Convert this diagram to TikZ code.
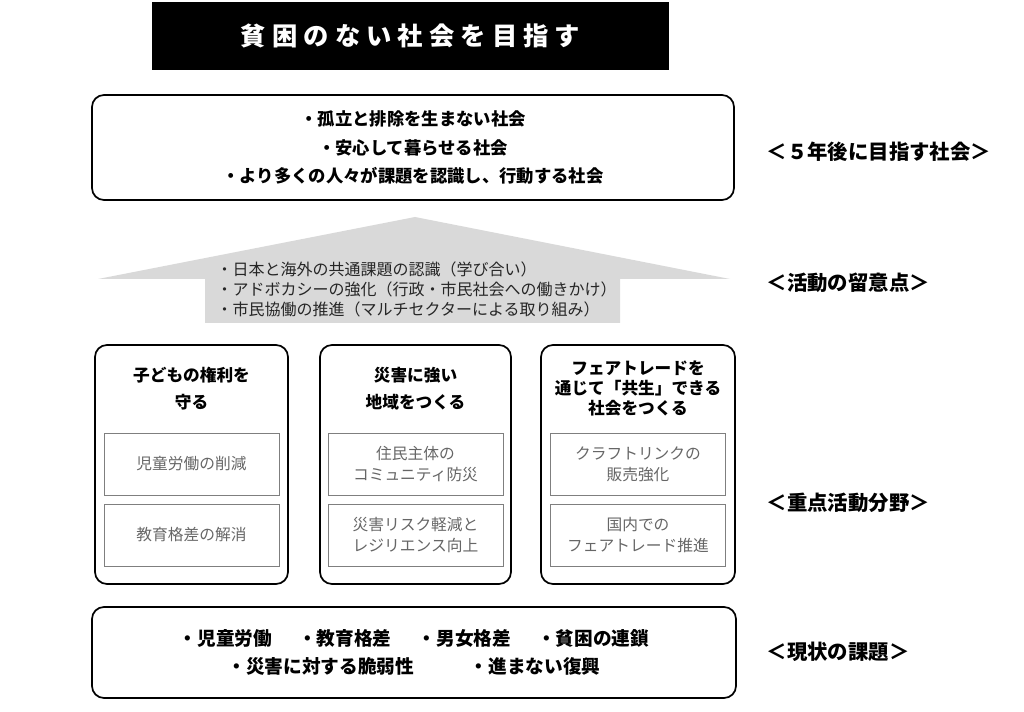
\documentclass[tikz,border=0pt]{standalone}
\usepackage{fontspec}
\newfontfamily\jp{Noto Sans CJK JP}
\newfontfamily\jptitle{Noto Sans CJK JP}[LetterSpace=24]
\usetikzlibrary{positioning}
\definecolor{arrowgray}{HTML}{D9D9D9}
\definecolor{itemgray}{HTML}{666666}
\definecolor{framegray}{HTML}{7F7F7F}
\newcommand\px{0.75pt}

\begin{document}
\begin{tikzpicture}[x=0.75pt,y=-0.75pt,
    colbox/.style={draw,line width=1.3pt,rounded corners=9pt,minimum height=239*\px},
    coltitle/.style={align=center,font=\jp\bfseries\fontsize{12.5}{20}\selectfont},
    itembox/.style={draw=framegray,line width=0.6pt,minimum width=175*\px,minimum height=62*\px,
                    align=center,text=itemgray,font=\jp\fontsize{11.8}{15.8}\selectfont},
    sidelabel/.style={anchor=west,font=\jp\bfseries\fontsize{15.3}{18}\selectfont}]
\useasboundingbox (0,0) rectangle (1024,712);

% goal
\node [fill=black,text=white,minimum width=517*\px,minimum height=68*\px,
       font=\jptitle\bfseries\fontsize{19}{21}\selectfont] (goal) at (410.5,36) {貧困のない社会を目指す\hspace{-0.24em}};

% society in five years
\node [draw,line width=1.3pt,rounded corners=9pt,minimum width=642*\px,minimum height=105*\px,
       align=center,font=\jp\bfseries\fontsize{13}{21.5}\selectfont] (future) at (413,147.5)
      {・孤立と排除を生まない社会\\・安心して暮らせる社会\\・より多くの人々が課題を認識し、行動する社会};

% arrow
\fill [arrowgray] (415,217) -- (730,279) -- (620,279) -- (620,323) -- (205,323)
      -- (205,279) -- (98,279) -- cycle;
\node [anchor=west,align=left,text=black!85,font=\jp\fontsize{12}{15}\selectfont] (points) at (212,289)
      {・日本と海外の共通課題の認識（学び合い）\\・アドボカシーの強化（行政・市民社会への働きかけ）\\・市民協働の推進（マルチセクターによる取り組み）};

% focus areas
\node [colbox,minimum width=193*\px] (col1) at (191.5,464.5) {};
\node [colbox,minimum width=191*\px] (col2) at (415.5,464.5) {};
\node [colbox,minimum width=194*\px] (col3) at (638,464.5) {};

\node [coltitle] (t1) at (191.5,388.5) {子どもの権利を\\守る};
\node [coltitle] (t2) at (415.5,388.5) {災害に強い\\地域をつくる};
\node [coltitle,font=\jp\bfseries\fontsize{12.5}{15}\selectfont] (t3) at (638,388) {フェアトレードを\\通じて「共生」できる\\社会をつくる};

\node [itembox] (a1) at (191.5,464) {児童労働の削減};
\node [itembox] (a2) at (191.5,535) {教育格差の解消};
\node [itembox] (b1) at (415.5,464) {住民主体の\\コミュニティ防災};
\node [itembox] (b2) at (415.5,535) {災害リスク軽減と\\レジリエンス向上};
\node [itembox] (c1) at (638,464) {クラフトリンクの\\販売強化};
\node [itembox] (c2) at (638,535) {国内での\\フェアトレード推進};

% current issues
\node [draw,line width=1.3pt,rounded corners=9pt,minimum width=644*\px,minimum height=91*\px,
       align=center,font=\jp\bfseries\fontsize{14}{21}\selectfont] (issues) at (414,652.5)
      {・児童労働\hspace{1.4em}・教育格差\hspace{1.4em}・男女格差\hspace{1.4em}・貧困の連鎖\\
       ・災害に対する脆弱性\hspace{3em}・進まない復興};

% side labels
\node [sidelabel] (l1) at (762,152) {＜５年後に目指す社会＞};
\node [sidelabel] (l2) at (762,283) {＜活動の留意点＞};
\node [sidelabel] (l3) at (762,503) {＜重点活動分野＞};
\node [sidelabel] (l4) at (762,652) {＜現状の課題＞};
\end{tikzpicture}
\end{document}
